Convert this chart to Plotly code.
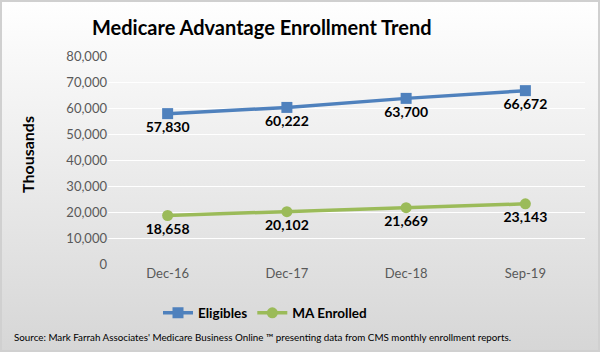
import base64
import plotly.graph_objects as go

categories = ["Dec-16", "Dec-17", "Dec-18", "Sep-19"]
eligibles = [57830, 60222, 63700, 66672]
ma_enrolled = [18658, 20102, 21669, 23143]
y_ticks = [0, 10000, 20000, 30000, 40000, 50000, 60000, 70000, 80000]

W, H = 600, 352
L, R, T, B = 108, 15, 56, 88
pw, ph = W - L - R, H - T - B

def px(x):
    return (x - L) / pw

def py(y):
    return (H - B - y) / ph

FONT = "Lato"

fig = go.Figure()
fig.add_trace(go.Scatter(
    x=categories, y=eligibles, name="Eligibles",
    mode="lines+markers+text",
    line=dict(color="#4f81bd", width=3.5),
    marker=dict(symbol="square", size=11, color="#4f81bd"),
    text=[f"{v:,}" for v in eligibles], textposition="bottom center",
    textfont=dict(family=FONT, size=14, color="#000000", weight="bold"),
))
fig.add_trace(go.Scatter(
    x=categories, y=ma_enrolled, name="MA Enrolled",
    mode="lines+markers+text",
    line=dict(color="#9bbb59", width=3.5),
    marker=dict(symbol="circle", size=11, color="#9bbb59"),
    text=[f"{v:,}" for v in ma_enrolled], textposition="bottom center",
    textfont=dict(family=FONT, size=14, color="#000000", weight="bold"),
))

svg = ('<svg xmlns="http://www.w3.org/2000/svg" width="600" height="352" preserveAspectRatio="none">'
       '<defs><linearGradient id="g" x1="0" y1="0" x2="0" y2="1">'
       '<stop offset="0" stop-color="#ffffff"/><stop offset="1" stop-color="#d6d6d6"/>'
       '</linearGradient></defs><rect width="600" height="352" fill="url(#g)"/></svg>')
uri = "data:image/svg+xml;base64," + base64.b64encode(svg.encode()).decode()

fig.update_layout(
    width=W, height=H,
    margin=dict(l=L, r=R, t=T, b=B),
    paper_bgcolor="#f0f0f0", plot_bgcolor="rgba(0,0,0,0)",
    font=dict(family=FONT, color="#595959"),
    showlegend=True,
    legend=dict(orientation="h", x=px(265), xanchor="center", y=py(313), yanchor="middle",
                font=dict(family=FONT, size=13.5, color="#000000", weight="bold"),
                bgcolor="rgba(0,0,0,0)", itemwidth=30, tracegroupgap=0),
    images=[dict(source=uri, xref="paper", yref="paper", x=px(0), y=py(0),
                 sizex=W / pw, sizey=H / ph, xanchor="left", yanchor="top",
                 sizing="stretch", layer="below")],
    shapes=[dict(type="rect", xref="paper", yref="paper", x0=px(1), x1=px(599), y0=py(1), y1=py(351),
                 line=dict(color="#d0d0d0", width=2), fillcolor="rgba(0,0,0,0)")],
    annotations=[
        dict(text="<b>Medicare Advantage Enrollment Trend</b>", xref="paper", yref="paper",
             x=px(262), y=py(27), xanchor="center", yanchor="middle", showarrow=False,
             font=dict(family=FONT, size=20, color="#000000")),
        dict(text="<b>Thousands</b>", xref="paper", yref="paper", x=px(27), y=py(155),
             xanchor="center", yanchor="middle", textangle=-90, showarrow=False,
             font=dict(family=FONT, size=16, color="#000000")),
        dict(text="Source: Mark Farrah Associates' Medicare Business Online \u2122 presenting data from CMS monthly enrollment reports.",
             xref="paper", yref="paper", x=px(262), y=py(337), xanchor="center", yanchor="middle",
             showarrow=False, font=dict(family=FONT, size=9.8, color="#000000")),
    ],
)
fig.update_xaxes(type="category", range=[-0.5, 3.5], showgrid=False, showline=False,
                 ticks="", tickfont=dict(family=FONT, size=13, color="#595959"))
fig.update_yaxes(range=[0, 80000], tickvals=y_ticks, ticktext=[f"{v:,}" for v in y_ticks],
                 showgrid=True, gridcolor="#ffffff", gridwidth=1.3, zeroline=False,
                 showline=False, ticks="", ticklen=0,
                 tickfont=dict(family=FONT, size=13, color="#595959"))

fig.write_html("out.html")
